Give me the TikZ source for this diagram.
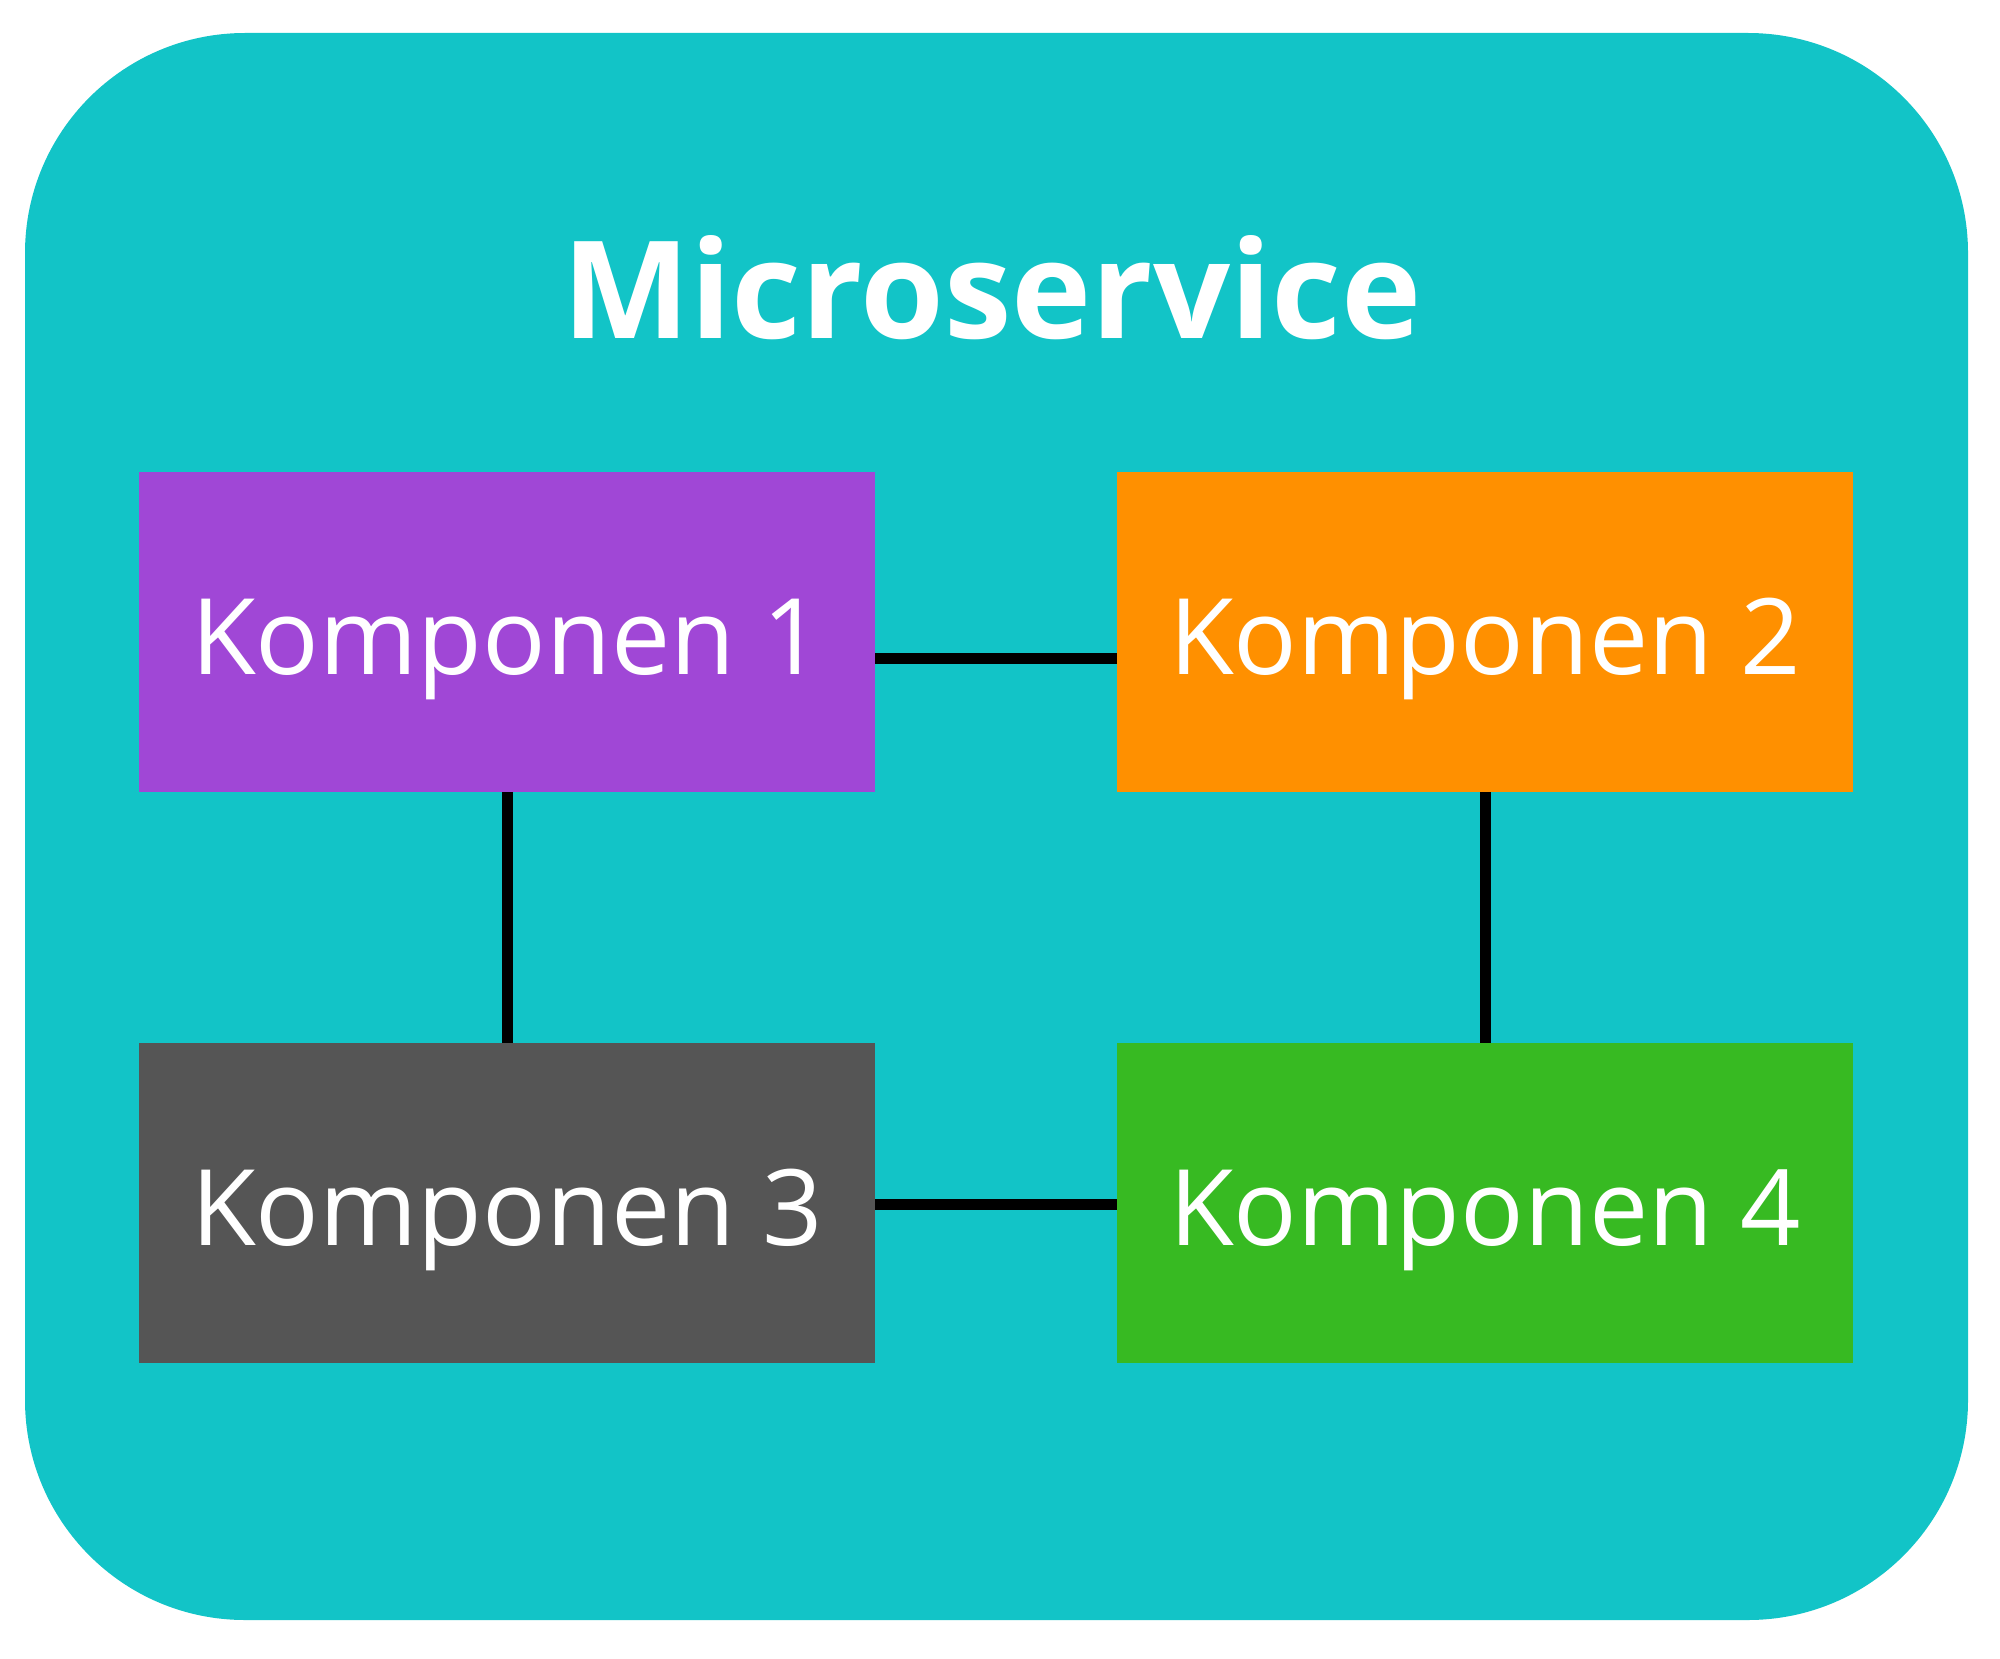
\documentclass[tikz,border=0pt]{standalone}
\usepackage{fontspec}
\setmainfont{Open Sans}
\definecolor{teal}{HTML}{12C4C7}
\definecolor{kpurple}{HTML}{A047D6}
\definecolor{korange}{HTML}{FF9000}
\definecolor{kgray}{HTML}{555555}
\definecolor{kgreen}{HTML}{37BA22}
\tikzset{
  comp/.style={rectangle, inner sep=0pt, minimum width=368pt, minimum height=160pt, text height=42.5pt, text depth=0pt, text=white, font=\fontsize{52.8}{63}\selectfont},
  link/.style={line width=5.5pt, draw=black}
}
\begin{document}
\begin{tikzpicture}[x=0.5pt,y=-0.5pt]
\useasboundingbox (0,0) rectangle (2000,1658);
\fill[teal, rounded corners=110pt] (25,33) rectangle (1968,1620);
\node[text=white, font=\fontsize{67.8}{80}\selectfont\bfseries, anchor=base] (title) at (992,339) {Microservice};
\node[comp, fill=kpurple] (k1) at (507,632) {Komponen 1};
\node[comp, fill=korange] (k2) at (1485,632) {Komponen 2};
\node[comp, fill=kgray] (k3) at (507,1203) {Komponen 3};
\node[comp, fill=kgreen] (k4) at (1485,1203) {Komponen 4};
\draw[link] (k1.east |- 0,658.5) -- (k2.west |- 0,658.5);
\draw[link] (k3.east |- 0,1204) -- (k4.west |- 0,1204);
\draw[link] (k1.south) -- (k3.north);
\draw[link] (k2.south) -- (k4.north);
\end{tikzpicture}
\end{document}
